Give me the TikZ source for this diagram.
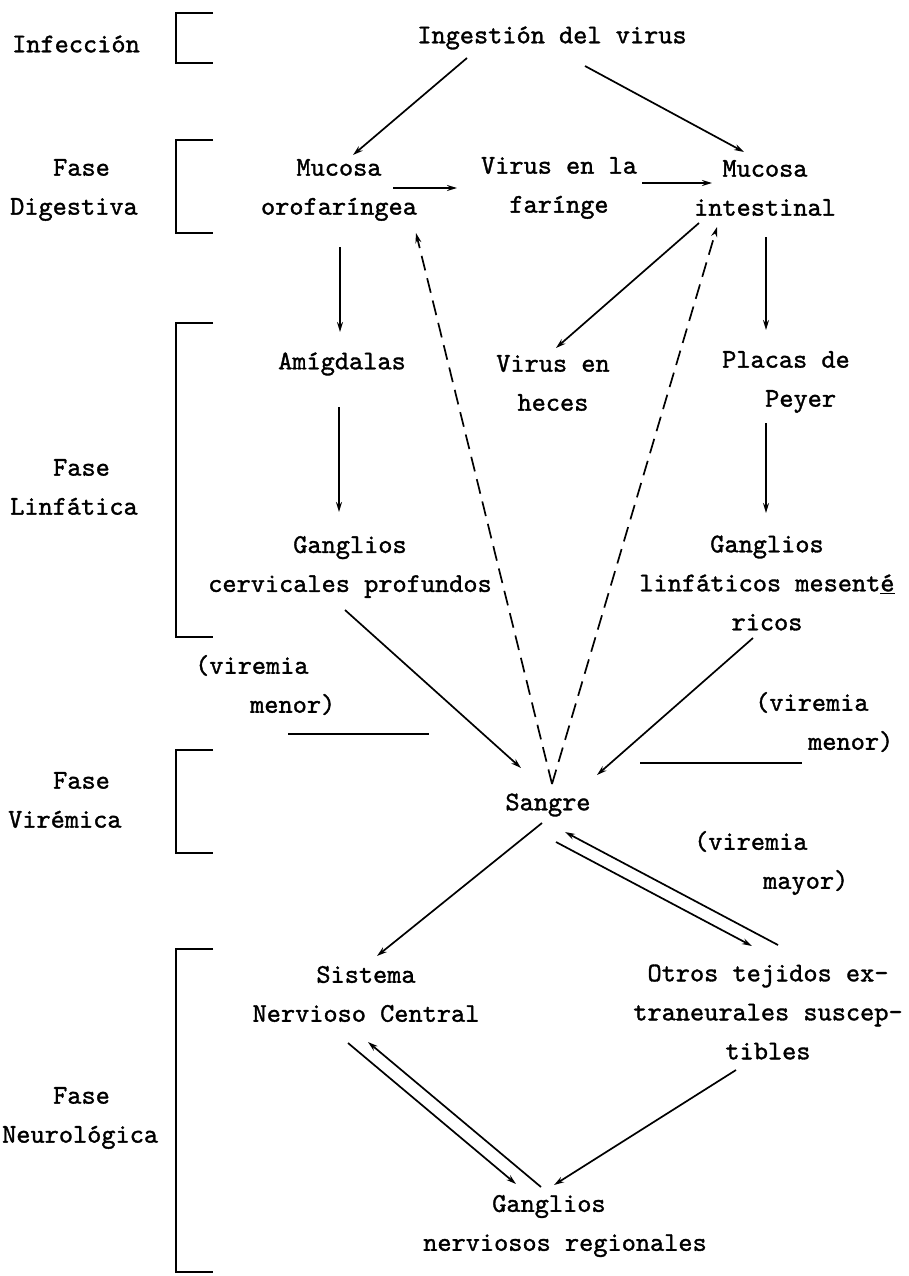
\documentclass[tikz,border=0pt]{standalone}
\usepackage{fontspec}
\setmonofont{lmmono10-regular.otf}[FakeBold=1.3]
\usetikzlibrary{arrows.meta}
\begin{document}
\begin{tikzpicture}[x=1pt,y=-1pt,
  tx/.style={font=\ttfamily\fontsize{27}{39}\selectfont, inner sep=0pt, align=center},
  lb/.style={tx, align=left, anchor=west},
  arr/.style={line width=1.7pt, -{Stealth[length=10pt,width=6pt]}},
  dsh/.style={arr, dash pattern=on 15pt off 8pt},
  brk/.style={line width=2pt},
  rulel/.style={line width=1.8pt}]
\useasboundingbox (0,0) rectangle (908,1276);

% phase labels
\node[lb] (inf) at (12,44) {Infección};
\node[lb] (fd) at (10,190) {\hspace*{43pt}Fase\\Digestiva};
\node[lb] (fl) at (10,487) {\hspace*{43pt}Fase\\Linfática};
\node[lb] (fv) at (8,800) {\hspace*{45pt}Fase\\Virémica};
\node[lb] (fn) at (2,1118) {\hspace*{51pt}Fase\\Neurológica};

% brackets
\draw[brk] (213,13) -- (176,13) -- (176,63) -- (213,63);
\draw[brk] (213,140) -- (176,140) -- (176,233) -- (213,233);
\draw[brk] (213,323) -- (176,323) -- (176,637) -- (213,637);
\draw[brk] (213,750) -- (176,750) -- (176,853) -- (213,853);
\draw[brk] (213,949) -- (176,949) -- (176,1272) -- (213,1272);

% diagram nodes
\node[tx] (ing) at (552,38) {Ingestión del virus};
\node[tx] (mo) at (339,190) {Mucosa\\orofaríngea};
\node[tx] (vf) at (559,188) {Virus en la\\farínge};
\node[tx] (mi) at (765,188) {Mucosa\\intestinal};
\node[tx] (am) at (342,364) {Amígdalas};
\node[tx] (vh) at (553,383) {Virus en\\heces};
\node[tx, align=left] (pp) at (786,382) {Placas de\\\hspace*{43pt}Peyer};
\node[tx] (gc) at (350,567) {Ganglios\\cervicales profundos};
\node[tx] (gl) at (767,583) {Ganglios\\linfáticos mesent\underline{é}\\ricos};
\node[lb] (vm1) at (195,685) {(viremia\\\hspace*{55pt}menor)};
\node[lb] (vm2) at (755,722) {(viremia\\\hspace*{53pt}menor)};
\node[tx] (sa) at (548,805) {Sangre};
\node[lb] (vm3) at (694,863) {(viremia\\\hspace*{69pt}mayor)};
\node[tx] (sn) at (366,994) {Sistema\\Nervioso Central};
\node[tx] (ot) at (768,1012) {Otros tejidos ex-\\traneurales suscep-\\tibles};
\node[tx, align=left] (gn) at (565,1226) {\hspace*{69pt}Ganglios\\nerviosos regionales};

% rules near viremia labels
\draw[rulel] (288,734) -- (429,734);
\draw[rulel] (640,763) -- (802,763);

% connectors
\draw[arr] ([shift={(-85,20)}]ing.center) -- ([shift={(14,-35)}]mo.center);
\draw[arr] ([shift={(33,28)}]ing.center) -- ([shift={(-21,-36)}]mi.center);
\draw[arr] ([shift={(54,-2)}]mo.center) -- ([shift={(-102,0)}]vf.center);
\draw[arr] ([shift={(83,-5)}]vf.center) -- ([shift={(-53,-5)}]mi.center);
\draw[arr] ([shift={(1,57)}]mo.center) -- ([shift={(-2,-32)}]am.center);
\draw[arr] ([shift={(-3,43)}]am.center) -- ([shift={(-11,-55)}]gc.center);
\draw[arr] ([shift={(-66,35)}]mi.center) -- ([shift={(3,-35)}]vh.center);
\draw[arr] ([shift={(1,49)}]mi.center) -- ([shift={(-20,-52)}]pp.center);
\draw[arr] ([shift={(-20,41)}]pp.center) -- ([shift={(-1,-70)}]gl.center);
\draw[arr] ([shift={(-5,43)}]gc.center) -- ([shift={(-27,-37)}]sa.center);
\draw[arr] ([shift={(-14,55)}]gl.center) -- ([shift={(49,-30)}]sa.center);
\draw[dsh] ([shift={(4,-21)}]sa.center) -- ([shift={(77,43)}]mo.center);
\draw[dsh] ([shift={(4,-21)}]sa.center) -- ([shift={(-48,39)}]mi.center);
\draw[arr] ([shift={(-6,18)}]sa.center) -- ([shift={(11,-38)}]sn.center);
\draw[arr] ([shift={(8,37)}]sa.center) -- ([shift={(-16,-66)}]ot.center);
\draw[arr] ([shift={(10,-67)}]ot.center) -- ([shift={(17,27)}]sa.center);
\draw[arr] ([shift={(-18,49)}]sn.center) -- ([shift={(-49,-42)}]gn.center);
\draw[arr] ([shift={(-24,-39)}]gn.center) -- ([shift={(2,48)}]sn.center);
\draw[arr] ([shift={(-32,58)}]ot.center) -- ([shift={(-11,-41)}]gn.center);
\end{tikzpicture}
\end{document}
